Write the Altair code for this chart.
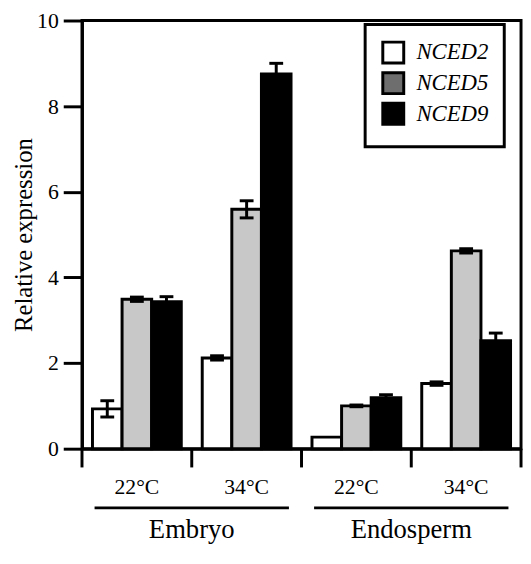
import altair as alt
import pandas as pd

groups = ["Embryo 22", "Embryo 34", "Endosperm 22", "Endosperm 34"]
tissues = ["Embryo", "Endosperm"]
genes = ["NCED2", "NCED5", "NCED9"]
nced2 = [0.93, 2.12, 0.27, 1.52]
nced5 = [3.49, 5.59, 1.00, 4.62]
nced9 = [3.43, 8.75, 1.19, 2.52]
err2 = [0.19, 0.05, 0.0, 0.04]
err5 = [0.05, 0.20, 0.02, 0.05]
err9 = [0.12, 0.25, 0.07, 0.18]
y_ticks = [0, 2, 4, 6, 8, 10]
bar_colors = ["white", "#c8c8c8", "black"]
legend_colors = ["white", "#6e6e6e", "black"]

FONT = "Liberation Serif"

W, H = 445, 434

rows = []
for gene, vals, errs in zip(genes, [nced2, nced5, nced9], [err2, err5, err9]):
    for g, v, e in zip(groups, vals, errs):
        rows.append({"group": g, "gene": gene, "value": v, "err": e,
                     "lo": v - e, "hi": v + e})
df = pd.DataFrame(rows)
df_err = df[df["err"] > 0]
df_groups = pd.DataFrame({"group": groups})
df_tissue = pd.DataFrame({"tissue": tissues})

x_enc = alt.X("group:N", sort=groups,
              scale=alt.Scale(domain=groups, paddingInner=0, paddingOuter=0),
              axis=alt.Axis(title=None, ticks=False, labelAngle=0, domainWidth=3,
                            domainColor="black", labelFontSize=22, labelColor="black",
                            labelFont=FONT, labelPadding=28, grid=False,
                            labelExpr="split(datum.label, ' ')[1] + '°C'"))
xoff = alt.XOffset("gene:N", sort=genes,
                   scale=alt.Scale(domain=genes, paddingInner=0, paddingOuter=0.354))
y_scale = alt.Scale(domain=[0, 10], nice=False)
y_axis = alt.Axis(values=y_ticks, tickSize=19, tickWidth=3, tickColor="black",
                  domainWidth=3, domainColor="black", labelFontSize=22,
                  labelColor="black", labelFont=FONT, labelPadding=5,
                  title="Relative expression", titleFontSize=25, titleFont=FONT,
                  titleFontWeight="normal", titleColor="black", titlePadding=0,
                  grid=False)

bars = alt.Chart(df).mark_bar(stroke="black", strokeWidth=3).encode(
    x=x_enc, xOffset=xoff,
    y=alt.Y("value:Q", scale=y_scale, axis=y_axis),
    fill=alt.Fill("gene:N", scale=alt.Scale(domain=genes, range=bar_colors), legend=None),
)

err_rule = alt.Chart(df_err).mark_rule(color="black", strokeWidth=3).encode(
    x=x_enc, xOffset=xoff, y=alt.Y("lo:Q", scale=y_scale), y2="hi:Q")
cap_hi = alt.Chart(df_err).mark_tick(color="black", size=14, thickness=3, opacity=1,
                                     orient="horizontal").encode(
    x=x_enc, xOffset=xoff, y=alt.Y("hi:Q", scale=y_scale))
cap_lo = alt.Chart(df_err).mark_tick(color="black", size=14, thickness=3, opacity=1,
                                     orient="horizontal").encode(
    x=x_enc, xOffset=xoff, y=alt.Y("lo:Q", scale=y_scale))

seps = alt.Chart(df_groups).mark_rule(color="black", strokeWidth=3).encode(
    x=alt.X("group:N", sort=groups, bandPosition=0),
    y=alt.value(H), y2=alt.value(H + 19))
sep_last = alt.Chart(df_groups).transform_filter(
    alt.datum.group == groups[-1]).mark_rule(color="black", strokeWidth=3).encode(
    x=alt.X("group:N", sort=groups, bandPosition=1),
    y=alt.value(H), y2=alt.value(H + 19))

legend_layer = alt.Chart(df).mark_square(opacity=0, size=0).encode(
    fill=alt.Fill("gene:N", scale=alt.Scale(domain=genes, range=legend_colors),
                  legend=alt.Legend(title=None, orient="none", legendX=287, legendY=4,
                                    symbolType="square", symbolSize=450,
                                    symbolStrokeColor="black", symbolStrokeWidth=3,
                                    symbolOpacity=1, labelFont=FONT,
                                    labelFontStyle="italic", labelFontSize=23,
                                    labelColor="black", labelOffset=11,
                                    rowPadding=-4, padding=16, strokeColor="black",
                                    fillColor="white", cornerRadius=0,
                                    labelLimit=200)))

main = alt.layer(bars, err_rule, cap_hi, cap_lo, seps, sep_last,
                 legend_layer).resolve_scale(fill="independent")

x_t = alt.X("tissue:N", sort=tissues,
            scale=alt.Scale(domain=tissues, paddingInner=0, paddingOuter=0),
            axis=None)
underline = alt.Chart(df_tissue).mark_tick(color="black", size=197, thickness=3,
                                           opacity=1, orient="horizontal").encode(
    x=x_t, y=alt.value(H + 60))
tissue_text = alt.Chart(df_tissue).mark_text(font=FONT, fontSize=27, color="black",
                                             baseline="middle").encode(
    x=x_t, y=alt.value(H + 83), text="tissue:N")
tissue = alt.layer(underline, tissue_text)

chart = alt.layer(main, tissue).resolve_scale(x="independent").properties(
    width=W, height=H,
    padding={"left": 75, "top": 9, "right": 2, "bottom": 98},
    autosize=alt.AutoSizeParams(type="none"),
).configure(font=FONT).configure_view(stroke="black", strokeWidth=3).configure_legend(
    strokeWidth=3)

chart.save("out.html", embed_options={"renderer": "svg", "actions": False})
